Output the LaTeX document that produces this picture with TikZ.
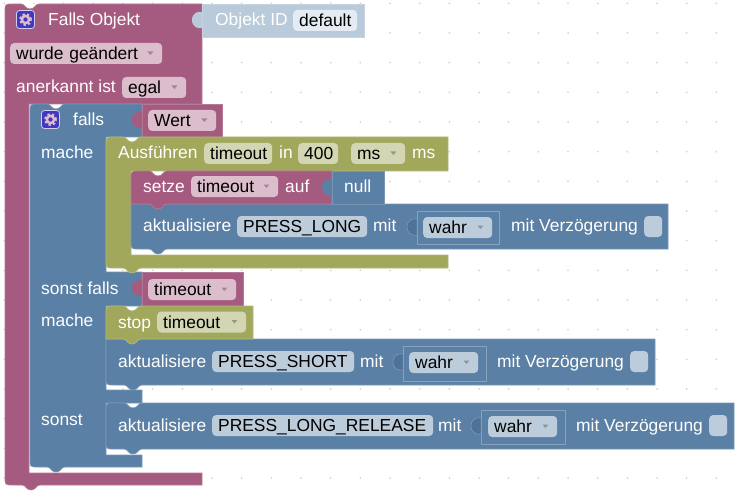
\documentclass[tikz,border=0pt]{standalone}
\usepackage{fontspec}
\setmainfont{Liberation Sans}
\usepackage{tikz}
\definecolor{logicblue}{HTML}{5B80A5}
\definecolor{logicdark}{HTML}{4F7298}
\definecolor{bluetint}{HTML}{BDCCDB}
\definecolor{varpurple}{HTML}{A55B80}
\definecolor{pinktint}{HTML}{DBBDCC}
\definecolor{timegreen}{HTML}{A1A85C}
\definecolor{greentint}{HTML}{D2D6B2}
\definecolor{shadowblue}{HTML}{B9CADB}
\definecolor{shadowtint}{HTML}{E4EBF2}
\definecolor{griddot}{HTML}{D4D4D4}
\definecolor{iconback}{HTML}{4338C0}

\newcommand{\topnotch}[2]{-- ({#1-9},#2) .. controls ({#1-5},#2) and ({#1-5},{#2+5}) .. (#1,{#2+5}) .. controls ({#1+5},{#2+5}) and ({#1+5},#2) .. ({#1+9},#2)}
\newcommand{\botnotch}[2]{-- ({#1+9},#2) .. controls ({#1+5},#2) and ({#1+5},{#2+5}) .. (#1,{#2+5}) .. controls ({#1-5},{#2+5}) and ({#1-5},#2) .. ({#1-9},#2)}
\newcommand{\puzzletab}[3]{\path[#1] (#2,#3) .. controls ({#2-4},{#3-1}) and ({#2-10},{#3+1}) .. ({#2-10},{#3+8}) .. controls ({#2-10},{#3+15}) and ({#2-4},{#3+17}) .. (#2,{#3+16}) -- cycle;}

\tikzset{
  block/.style={fill=#1, draw=#1!82!white, line width=.7pt},
  lbl/.style={text=white, inner sep=0pt, anchor=west, text height=12.5pt, text depth=.5pt},
  fieldbox/.style={rounded corners=4pt, inner ysep=0pt, inner xsep=6pt, anchor=west, align=left,
    minimum height=21pt, text height=12.5pt, text depth=.5pt, text width=#1pt},
  tickbox/.style={rounded corners=4pt, fill=bluetint, anchor=west, inner sep=0pt, minimum width=18pt, minimum height=21pt},
  iconbox/.style={rounded corners=3pt, fill=iconback, draw=#1, line width=.8pt, inner sep=0pt, minimum size=18pt},
  gearicon/.pic={
    \node[iconbox=white!75!iconback] (-box) at (0,0) {};
    \draw[pinktint, line width=2pt, dash pattern=on 2.3pt off 2.41pt] (0,0) circle[radius=5.6pt];
    \draw[pinktint, line width=2.4pt] (0,0) circle[radius=3.6pt];
  },
  wahrtab/.style={fill=logicdark, draw=bluetint!45!logicblue, line width=.5pt},
  wahrframe/.style={draw=bluetint!45!logicblue, line width=.7pt}
}

\begin{document}
\begin{tikzpicture}[x=1pt, y=-1pt, font=\fontsize{17.4}{20}\selectfont]
\useasboundingbox (0,0) rectangle (739,492);

% workspace grid
\foreach \i in {0,...,24}
  \foreach \j in {0,...,16}
    \fill[griddot] ({4.3+29.67*\i},{3.3+29.67*\j}) circle[radius=1pt];

% outer trigger block
\draw[block=varpurple] (5,12) .. controls (5,4) .. (13,4) \topnotch{30}{4} -- (202,4) -- (202,104)
  -- (29,104) -- (29,473) -- (202,473) -- (202,485) \botnotch{31}{485} -- (13,485) .. controls (5,485) .. (5,477) -- cycle;
\draw[block=shadowblue] (202,4) rectangle (364,37);
\puzzletab{fill=shadowblue}{202}{12}

% if block with its three branches
\draw[block=logicblue] (30,112) .. controls (30,104) .. (38,104) \topnotch{56}{104} -- (142,104) -- (142,137)
  -- (106,137) -- (106,272) -- (142,272) -- (142,306) -- (106,306) -- (106,390) -- (142,390) -- (142,403)
  -- (106,403) -- (106,455) -- (142,455) -- (142,467) \botnotch{56}{467} -- (38,467) .. controls (30,467) .. (30,459) -- cycle;
\draw[block=varpurple] (142,104) rectangle (222,137);
\puzzletab{fill=varpurple}{142}{112}
\draw[block=varpurple] (142,272) rectangle (243,306);
\puzzletab{fill=varpurple}{142}{280}

% first branch
\draw[block=timegreen] (106,145) .. controls (106,137) .. (114,137) \topnotch{132}{137} -- (448,137) -- (448,171)
  -- (131,171) -- (131,255) -- (448,255) -- (448,268) \botnotch{132}{268} -- (114,268) .. controls (106,268) .. (106,260) -- cycle;
\draw[block=logicblue] (131,204) -- (668,204) -- (668,249) \botnotch{158}{249} -- (139,249) .. controls (131,249) .. (131,241) -- cycle;
\draw[block=varpurple] (131,179) .. controls (131,171) .. (139,171) \topnotch{158}{171} -- (332,171) -- (332,204) \botnotch{158}{204} -- (131,204) -- cycle;
\draw[block=logicblue] (332,171) rectangle (384,204);
\puzzletab{fill=logicblue}{332}{179}
\draw[wahrframe] (417,211) rectangle (499,244);
\puzzletab{wahrtab}{417}{219}

% second branch
\draw[block=logicblue] (106,339) -- (655,339) -- (655,385) \botnotch{133}{385} -- (114,385) .. controls (106,385) .. (106,377) -- cycle;
\draw[block=timegreen] (106,314) .. controls (106,306) .. (114,306) \topnotch{132}{306} -- (253,306) -- (253,339) \botnotch{132}{339} -- (106,339) -- cycle;
\draw[wahrframe] (403,346) rectangle (486,381);
\puzzletab{wahrtab}{403}{354}

% third branch
\draw[block=logicblue] (106,411) .. controls (106,403) .. (114,403) \topnotch{133}{403} -- (734,403) -- (734,449) \botnotch{133}{449} -- (114,449) .. controls (106,449) .. (106,441) -- cycle;
\draw[wahrframe] (481,410) rectangle (565,444);
\puzzletab{wahrtab}{481}{418}

% icons
\pic (gearA) at (25.5,19.5) {gearicon};
\pic (gearB) at (50.5,119.5) {gearicon};

% texts of the blocks
\node[lbl] (falls) at (48,20) {Falls Objekt};
\node[lbl] (objid) at (215,20) {Objekt ID};
\node[lbl] (anerkannt) at (16,87) {anerkannt ist};
\node[lbl] (ifA) at (73,120) {falls};
\node[lbl] (macheA) at (41,152) {mache};
\node[lbl] (run) at (118,153) {Ausführen};
\node[lbl] (inA) at (279,153) {in};
\node[lbl] (msA) at (412,153) {ms};
\node[lbl] (setze) at (143,186.7) {setze};
\node[lbl] (auf) at (285,186.7) {auf};
\node[lbl] (nullA) at (344,186.7) {null};
\node[lbl] (updA) at (143,225.7) {aktualisiere};
\node[lbl] (mitA) at (373,225.7) {mit};
\node[lbl] (delayA) at (511,225.7) {mit Verzögerung};
\node[lbl] (elif) at (41,288) {sonst falls};
\node[lbl] (macheB) at (41,320.7) {mache};
\node[lbl] (stop) at (118,322) {stop};
\node[lbl] (updB) at (118,361.7) {aktualisiere};
\node[lbl] (mitB) at (360,361.7) {mit};
\node[lbl] (delayB) at (497,361.7) {mit Verzögerung};
\node[lbl] (sonst) at (41,419) {sonst};
\node[lbl] (updC) at (118,425.7) {aktualisiere};
\node[lbl] (mitC) at (438,425.7) {mit};
\node[lbl] (delayC) at (576,425.7) {mit Verzögerung};

% fields
\node[fieldbox=52, fill=shadowtint] (idval) at (293,20.5) {default};
\node[fieldbox=140, fill=pinktint] (changed) at (10,53.5) {wurde geändert};
\node[fieldbox=52, fill=pinktint] (egal) at (122,87.5) {egal};
\node[fieldbox=56, fill=pinktint] (wert) at (148,120.5) {Wert};
\node[fieldbox=56, fill=greentint] (tvar) at (204,153.5) {timeout};
\node[fieldbox=28, fill=greentint] (delay) at (298,153.5) {400};
\node[fieldbox=42, fill=greentint] (unit) at (351,153.5) {ms};
\node[fieldbox=75, fill=pinktint] (setvar) at (191,186.5) {timeout};
\node[fieldbox=118, fill=bluetint] (longid) at (237,226.5) {PRESS\_LONG};
\node[fieldbox=57, fill=bluetint] (wahrA) at (423,227.5) {wahr};
\node[tickbox] (tickA) at (644,226.5) {};
\node[fieldbox=76, fill=pinktint] (elifvar) at (148,289.5) {timeout};
\node[fieldbox=77, fill=greentint] (stopvar) at (157,322) {timeout};
\node[fieldbox=130, fill=bluetint] (shortid) at (212,361.5) {PRESS\_SHORT};
\node[fieldbox=57, fill=bluetint] (wahrB) at (409,362.5) {wahr};
\node[tickbox] (tickB) at (630,361.5) {};
\node[fieldbox=209, fill=bluetint] (releaseid) at (212,425.5) {PRESS\_LONG\_RELEASE};
\node[fieldbox=57, fill=bluetint] (wahrC) at (488,426.5) {wahr};
\node[tickbox] (tickC) at (709,425.5) {};

% dropdown arrows
\foreach \n in {changed,egal,wert,unit,setvar,wahrA,elifvar,stopvar,wahrB,wahrC}
  \fill[black, opacity=.28] ([xshift=-15pt,yshift=2pt]\n.east) -- ++(6,0) -- ++(-3,3.5) -- cycle;
\end{tikzpicture}
\end{document}
